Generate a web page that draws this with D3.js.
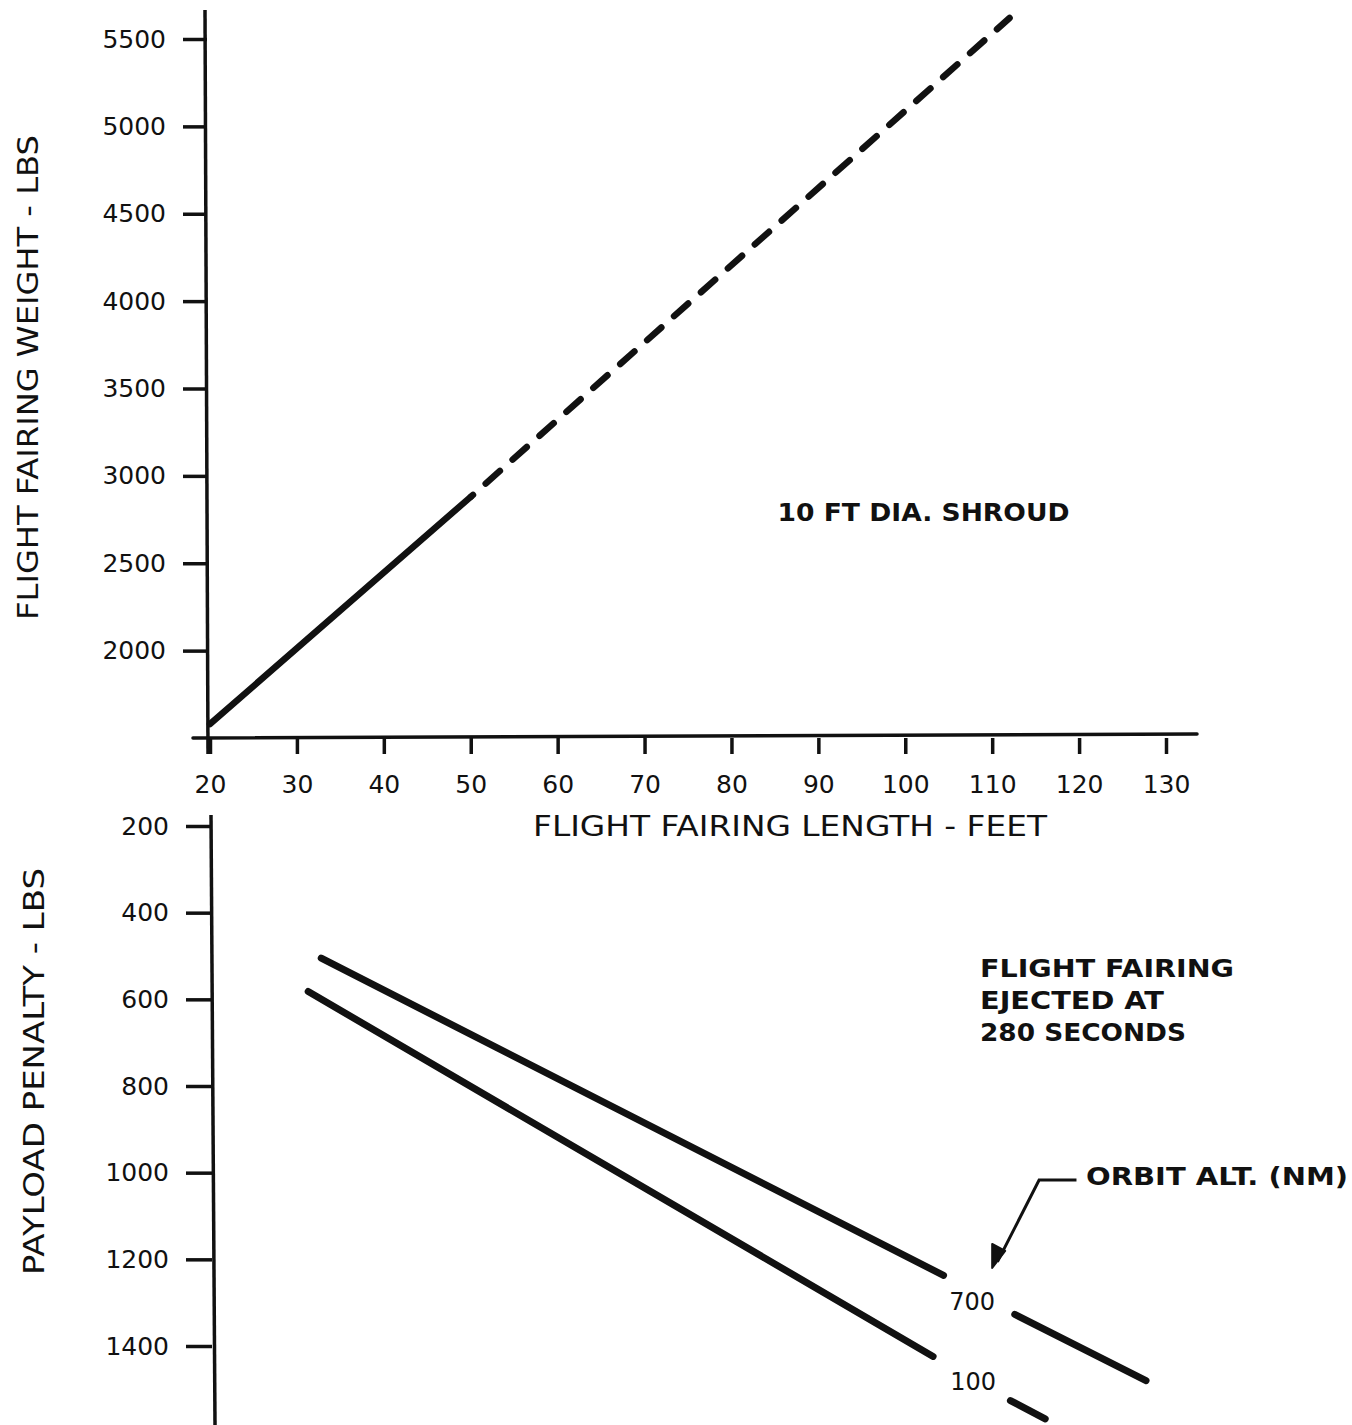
<!DOCTYPE html>
<html>
<head>
<meta charset="utf-8">
<script src="https://cdn.jsdelivr.net/npm/d3@7/dist/d3.min.js"></script>
<style>
  body { margin: 0; background: #fff; }
  svg { display: block; font-family: "DejaVu Sans", sans-serif; }
  .tick text { font-family: "DejaVu Sans", sans-serif; font-size: 25px; fill: #111; }
</style>
</head>
<body>
<div class="svg-container"></div>
<script>
// fairing length ticks (shared x)
const lengthTicks = [20, 30, 40, 50, 60, 70, 80, 90, 100, 110, 120, 130];
const weightTicks = [2000, 2500, 3000, 3500, 4000, 4500, 5000, 5500];
const penaltyTicks = [200, 400, 600, 800, 1000, 1200, 1400];

// top chart: weight vs length (solid part, then dashed extrapolation)
const solidLength = [20, 50];
const solidWeight = [1580, 2880];
const dashLength = [50, 112];
const dashWeight = [2880, 5620];

// bottom chart: payload penalty, each orbit broken round its label
const alt700Length = [[32.8, 104.4], [112.6, 127.7]];
const alt700Penalty = [[505, 1237], [1327, 1480]];
const alt100Length = [[31.3, 103.2], [112.1, 116.1]];
const alt100Penalty = [[582, 1424], [1526, 1568]];

const w = 1352, h = 1425;

const svg = d3.select(".svg-container")
  .append("svg")
  .attr("width", w)
  .attr("height", h);

svg.append("rect").attr("width", w).attr("height", h).attr("fill", "#fff");

const xScale = d3.scaleLinear().domain([20, 130]).range([210, 1166]);
const yTop = d3.scaleLinear().domain([1500, 5500]).range([738, 39]);
const yBot = d3.scaleLinear().domain([200, 1400]).range([826, 1346]);

const ink = "#111";
const fmt = d3.format("d");

// ---- top chart axes
const xAxis = d3.axisBottom(xScale).tickValues(lengthTicks).tickFormat(fmt)
  .tickSize(16).tickPadding(21);
const gx = svg.append("g")
  .attr("transform", "translate(0," + yTop(1500) + ")")
  .call(xAxis);
gx.select(".domain").remove();
gx.selectAll("line").attr("stroke", ink).attr("stroke-width", 3.5);
svg.append("line")
  .attr("x1", 193).attr("x2", 1197)
  .attr("y1", yTop(1500)).attr("y2", yTop(1500) - 4)
  .attr("stroke", ink).attr("stroke-width", 3.5).attr("stroke-linecap", "round");

const yAxisTop = d3.axisLeft(yTop).tickValues(weightTicks).tickFormat(fmt)
  .tickSize(24).tickPadding(17);
const gyt = svg.append("g")
  .attr("transform", "translate(207,0)")
  .call(yAxisTop);
gyt.select(".domain").remove();
gyt.selectAll("line").attr("stroke", ink).attr("stroke-width", 3.5);
svg.append("line")
  .attr("x1", 205).attr("x2", 208)
  .attr("y1", 10).attr("y2", yTop(1500) + 16)
  .attr("stroke", ink).attr("stroke-width", 3.5);

// ---- top chart line
const line = d3.line().x(d => xScale(d[0])).y(d => d[1]);
svg.append("path")
  .attr("d", line(solidLength.map((v, i) => [v, yTop(solidWeight[i])])))
  .attr("fill", "none").attr("stroke", ink)
  .attr("stroke-width", 6.5).attr("stroke-linecap", "round");
svg.append("path")
  .attr("d", line(dashLength.map((v, i) => [v, yTop(dashWeight[i])])))
  .attr("fill", "none").attr("stroke", ink)
  .attr("stroke-width", 6.5).attr("stroke-linecap", "round")
  .attr("stroke-dasharray", "19,17").attr("stroke-dashoffset", -20);

// sized to the hand lettering of the original
function label(x, y, str, len, size, bold) {
  return svg.append("text")
    .attr("x", x).attr("y", y)
    .attr("font-size", size).attr("font-weight", bold ? "bold" : "normal")
    .attr("fill", ink)
    .attr("textLength", len).attr("lengthAdjust", "spacingAndGlyphs")
    .text(str);
}

label(xScale(85.3), yTop(2743), "10 FT DIA. SHROUD", 292, 24, true);

// axis titles
label(533, 836, "FLIGHT FAIRING LENGTH - FEET", 514, 28, false);
svg.append("text")
  .attr("transform", "translate(38,620) rotate(-90)")
  .attr("font-size", 28).attr("fill", ink)
  .attr("textLength", 485).attr("lengthAdjust", "spacingAndGlyphs")
  .text("FLIGHT FAIRING WEIGHT - LBS");
svg.append("text")
  .attr("transform", "translate(44,1275) rotate(-90)")
  .attr("font-size", 28).attr("fill", ink)
  .attr("textLength", 407).attr("lengthAdjust", "spacingAndGlyphs")
  .text("PAYLOAD PENALTY - LBS");

// ---- bottom chart axis
const yAxisBot = d3.axisLeft(yBot).tickValues(penaltyTicks).tickFormat(fmt)
  .tickSize(26).tickPadding(17);
const gyb = svg.append("g")
  .attr("transform", "translate(212,0)")
  .call(yAxisBot);
gyb.select(".domain").remove();
gyb.selectAll("line").attr("stroke", ink).attr("stroke-width", 3.5);
svg.append("line")
  .attr("x1", 211).attr("x2", 215)
  .attr("y1", 815).attr("y2", h)
  .attr("stroke", ink).attr("stroke-width", 3.5);

// ---- bottom chart lines
[[alt700Length, alt700Penalty], [alt100Length, alt100Penalty]].forEach(([lens, pens]) => {
  lens.forEach((seg, s) => {
    svg.append("path")
      .attr("d", line(seg.map((v, i) => [v, yBot(pens[s][i])])))
      .attr("fill", "none").attr("stroke", ink)
      .attr("stroke-width", 7).attr("stroke-linecap", "round");
  });
});

svg.append("text")
  .attr("x", xScale(107.7)).attr("y", yBot(1317))
  .attr("text-anchor", "middle").attr("font-size", 24).attr("fill", ink)
  .text("700");
svg.append("text")
  .attr("x", xScale(107.8)).attr("y", yBot(1502))
  .attr("text-anchor", "middle").attr("font-size", 24).attr("fill", ink)
  .text("100");

label(xScale(108.6), yBot(548), "FLIGHT FAIRING", 254, 24, true);
label(xScale(108.6), yBot(622), "EJECTED AT", 184, 24, true);
label(xScale(108.6), yBot(696), "280 SECONDS", 206, 24, true);
label(xScale(120.8), yBot(1028), "ORBIT ALT. (NM)", 262, 24, true);

// leader arrow
const arrowPts = [[119.7, 1017], [115.4, 1017], [110.6, 1206]];
svg.append("path")
  .attr("d", d3.line().x(d => xScale(d[0])).y(d => yBot(d[1]))(arrowPts))
  .attr("fill", "none").attr("stroke", ink).attr("stroke-width", 3);
const tip = [xScale(110), yBot(1220)];
svg.append("path")
  .attr("d", "M" + tip[0] + "," + tip[1] + "l0,-24 l13,7 z")
  .attr("fill", ink).attr("stroke", ink).attr("stroke-width", 2)
  .attr("stroke-linejoin", "round");
</script>
</body>
</html>
